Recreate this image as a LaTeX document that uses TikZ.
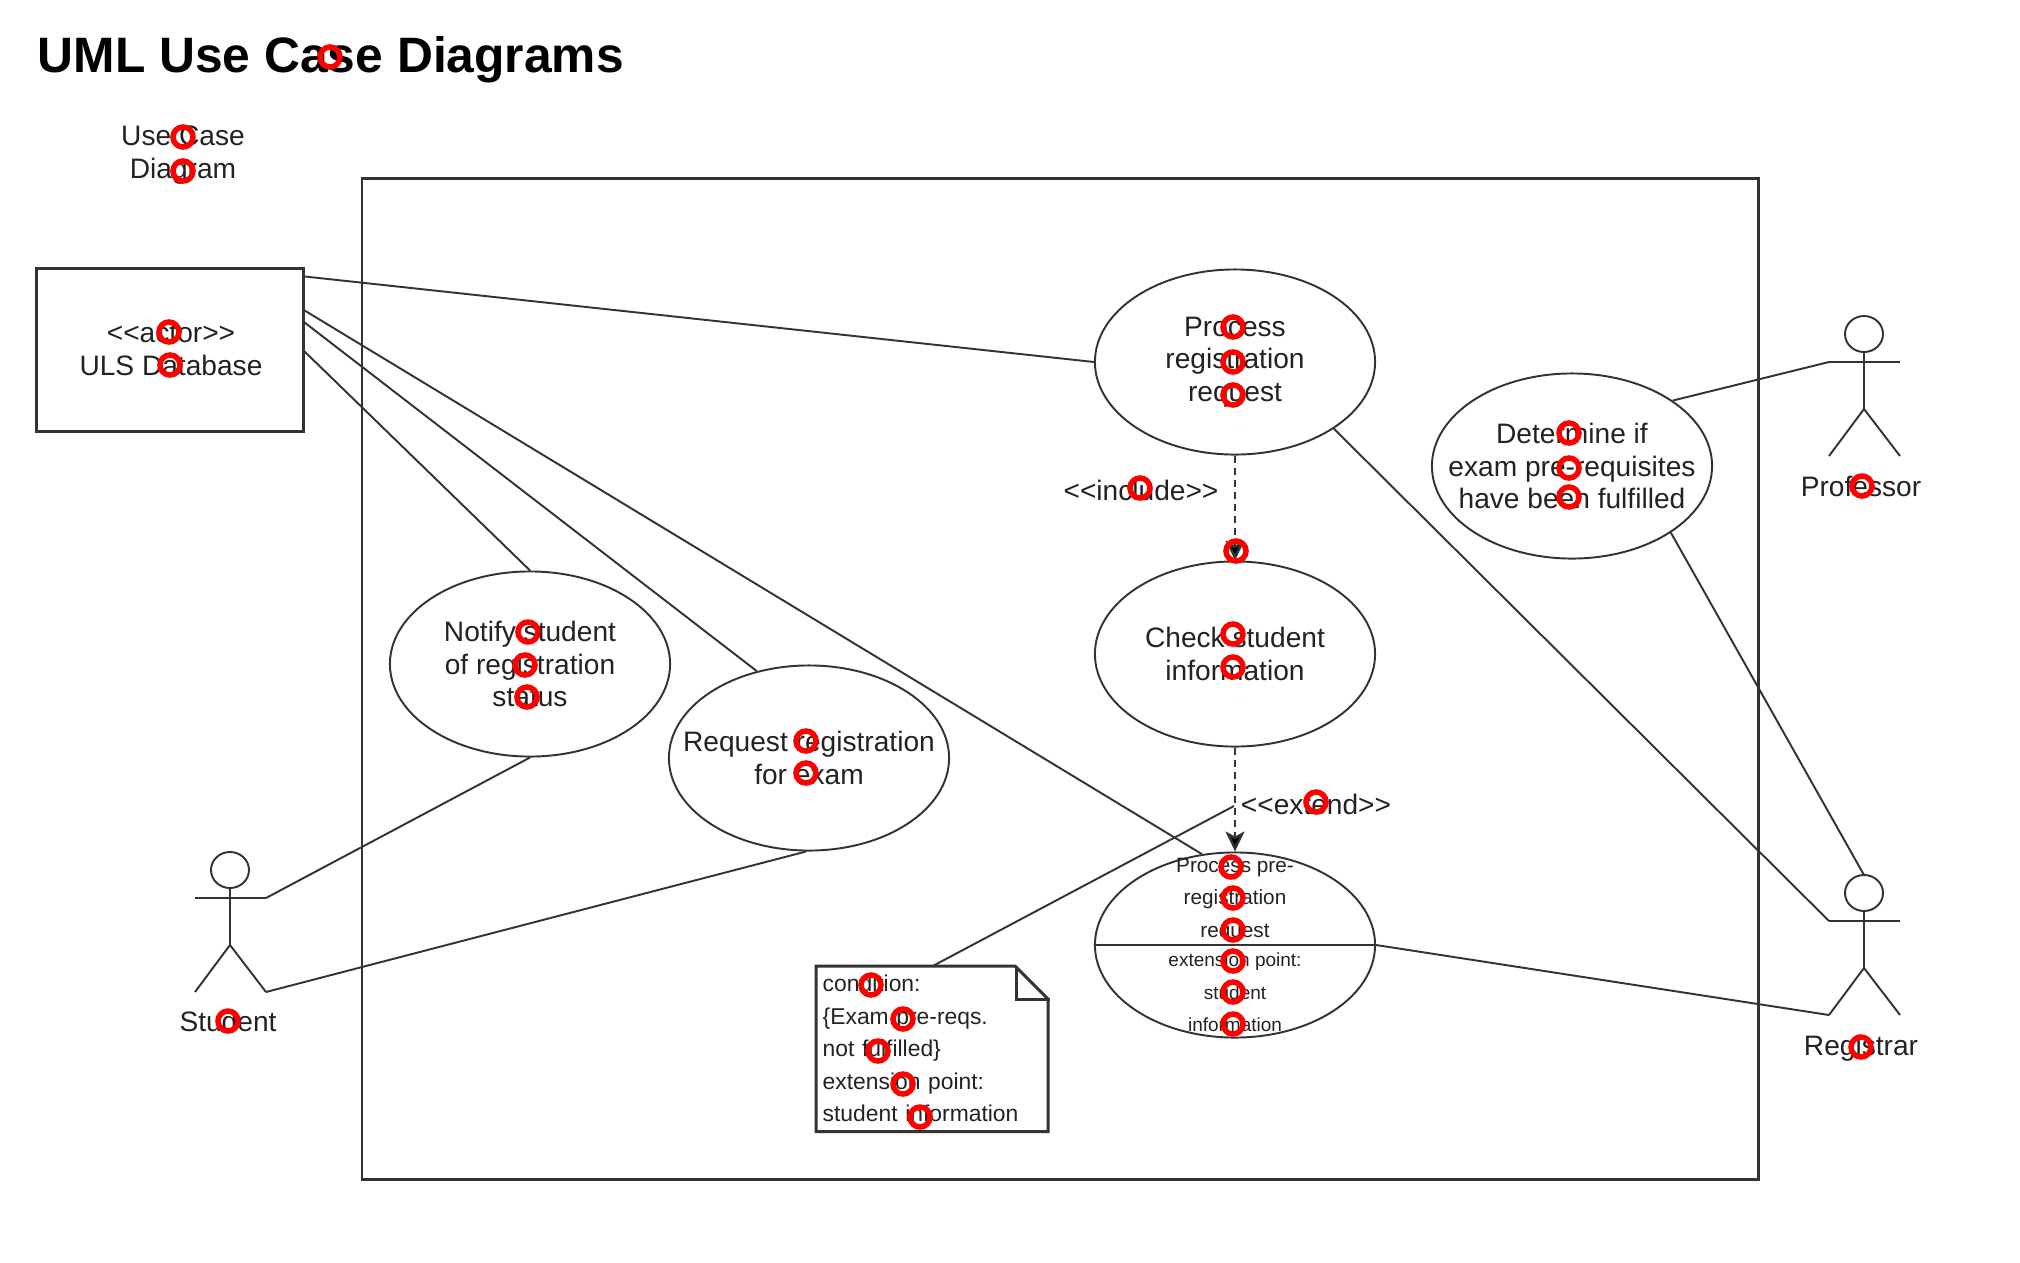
\documentclass[tikz,border=0pt]{standalone}
\usepackage{fontspec}
\setmainfont{Liberation Sans}
\usetikzlibrary{shapes.geometric,arrows.meta}
\definecolor{lineink}{HTML}{333333}
\definecolor{textink}{HTML}{222222}
\tikzset{
	umlline/.style={draw=lineink, line width=.55pt},
	frameline/.style={draw=lineink, line width=.85pt},
	includeline/.style={draw=lineink, line width=.7pt, dash pattern=on .07cm off .05cm, -{Stealth[length=.2cm,width=.19cm,inset=.05cm,fill=black]}},
	usecase/.style={ellipse, umlline, minimum width=2.8cm, minimum height=1.85cm, inner sep=-.4cm, align=center, text=textink, font=\fontsize{8}{9.25}\selectfont},
	plaintext/.style={align=center, text=textink, inner sep=0pt, font=\fontsize{8}{9.25}\selectfont},
	notetext/.style={align=left, text=textink, inner xsep=.06cm, inner ysep=.05cm, font=\fontsize{6.5}{9.25}\selectfont},
	ring/.style={draw=red, line width=.055cm},
	umlactor/.pic={
		\draw[umlline] (0,0) ellipse [x radius=.19cm, y radius=.18cm];
		\draw[umlline] (0,18) -- (0,75);
		\draw[umlline] (-35,28) -- (36,28);
		\draw[umlline] (-35,122) -- (0,75) -- (36,122);
		\coordinate (-top) at (0,-18);
		\coordinate (-arml) at (-35,28);
		\coordinate (-armr) at (36,28);
		\coordinate (-footl) at (-35,122);
		\coordinate (-footr) at (36,122);
	}
}
\begin{document}
\begin{tikzpicture}[x=.01cm,y=-.01cm]
	\useasboundingbox (0,0) rectangle (2020,1263);
	\node[anchor=base west, inner sep=0pt, text=black, font=\fontsize{14.15}{16}\selectfont\bfseries] (title) at (37,72) {UML Use Case Diagrams};
	\node[plaintext] (diagname) at (183,155) {Use Case\\Diagram};
	\draw[frameline] (362,178) rectangle (1758,1179);
	\node[draw=lineink, line width=.85pt, minimum width=2.66cm, minimum height=1.62cm, plaintext, inner sep=0pt] (db) at (170,350) {};
	\node[plaintext] (dbtext) at (171,350) {<{}<actor>{}>\\ULS Database};
	\node[usecase] (process) at (1235,362) {Process\\registration\\request};
	\node[usecase] (check) at (1235,654) {Check student\\information};
	\node[usecase, font=\fontsize{5.9}{9.25}\selectfont] (ext) at (1235,945) {Process pre-\\registration\\request\\[-.03cm]\fontsize{5.4}{9.25}\selectfont extension point:\\\fontsize{5.4}{9.25}\selectfont student\\\fontsize{5.4}{9.25}\selectfont information};
	\node[usecase] (notify) at (530,664) {Notify student\\of registration\\status};
	\node[usecase] (request) at (809,758) {Request registration\\for exam};
	\node[usecase] (determine) at (1572,466) {Determine if\\exam pre-requisites\\have been fulfilled};
	\draw[umlline] (ext.west) -- (ext.east);
	\pic (student) at (230,870) {umlactor};
	\pic (prof) at (1864,334) {umlactor};
	\pic (reg) at (1864,893) {umlactor};
	\node[plaintext] (studentname) at (228,1021) {Student};
	\node[plaintext] (profname) at (1861,486) {Professor};
	\node[plaintext] (regname) at (1861,1048) {Registrar};
	\node[plaintext] (includename) at (1141,490) {<{}<include>{}>};
	\node[plaintext] (extendname) at (1316,804) {<{}<extend>{}>};
	\node[notetext, anchor=north west, minimum width=2.32cm, minimum height=1.64cm, text width=2.2cm] (note) at (816,966) {condition:\\\{Exam pre-reqs.\\not fulfilled\}\\extension point:\\student information};
	\draw[frameline] (note.north west) -- ++(199,0) -- ++(33,33) |- (note.south west) -- cycle;
	\draw[frameline] (note.north east) ++(-33,0) -- ++(0,33) -- ++(33,0);
	\coordinate (extendend) at (1234,806);
	\draw[umlline] ([yshift=-.09cm]db.north east) -- (process.west);
	\draw[umlline] ([yshift=-.43cm]db.north east) -- (ext.110);
	\draw[umlline] ([yshift=-.55cm]db.north east) -- (request.121);
	\draw[umlline] ([yshift=-.84cm]db.north east) -- (notify.north);
	\draw[umlline] (notify.south) -- (student-armr);
	\draw[umlline] ([xshift=-.03cm]request.south) -- (student-footr);
	\draw[includeline] (process.south) -- (check.north);
	\draw[includeline] (check.south) -- (ext.north);
	\draw[umlline] (note.north) -- (extendend);
	\draw[umlline] (ext.east) -- (reg-footl);
	\draw[umlline] (process.-34) -- (reg-arml);
	\draw[umlline] (determine.-34) -- (reg-top);
	\draw[umlline] (determine.33) -- (prof-arml);
	\foreach \ringx/\ringy in {330/57,183/137,183/171,169/332,170/365,1233/327,1233/362,1233/395,1140/488,1236/551,1569/433,1569/468,1569/497,1862/486,1861/1047,1233/634,1233/667,528/632,525/665,527/697,806/741,806/773,1316/802,1231/867,1233/898,1233/930,1233/961,1233/992,1233/1024,871/985,903/1019,878/1051,903/1084,920/1117,228/1021}
		\draw[ring] (\ringx,\ringy) circle (.1cm);
\end{tikzpicture}
\end{document}
